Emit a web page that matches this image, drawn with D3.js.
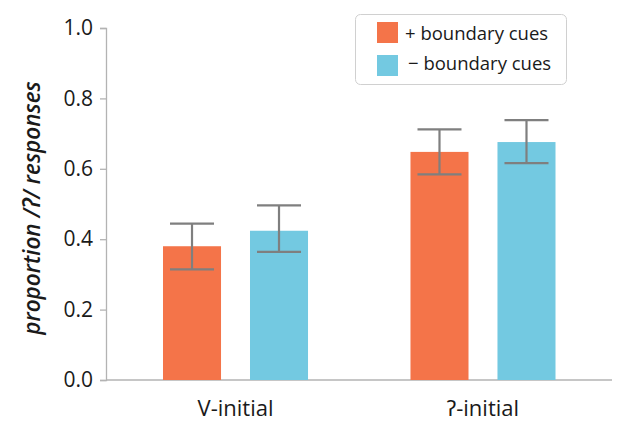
<!DOCTYPE html>
<html>
<head>
<meta charset="utf-8">
<script src="https://cdn.jsdelivr.net/npm/d3@7"></script>
<style>
  html, body { margin: 0; padding: 0; background: #fff; }
  svg { display: block; font-family: "Open Sans", "Noto Sans", sans-serif; }
</style>
</head>
<body>
<svg id="chart" width="619" height="422"></svg>
<script>
// Word-onset categories and boundary-cue conditions
const categories = ["V-initial", "ʔ-initial"];
const conditions = ["+ boundary cues", "\u2212 boundary cues"];
const conditionKeys = ["plus", "minus"];

// Mean proportion of /ʔ/ responses per category (plus, minus)
const plusValues = [0.38, 0.648];
const minusValues = [0.424, 0.676];

// Error bar extents (lower, upper)
const plusLow = [0.314, 0.584];
const plusHigh = [0.444, 0.712];
const minusLow = [0.364, 0.616];
const minusHigh = [0.496, 0.738];

const yTicks = [0, 0.2, 0.4, 0.6, 0.8, 1.0];
const colors = { plus: "#f47449", minus: "#73c9e1" };

const svg = d3.select("#chart");
const margin = { left: 106, top: 28, bottom: 42 };
const H = 422;

const y = d3.scaleLinear().domain([0, 1]).range([H - margin.bottom, margin.top]);

const x = d3.scaleBand().domain(categories)
  .range([113.5, 605]).paddingInner(0.414).paddingOuter(0.2);
const xInner = d3.scaleBand().domain(conditionKeys)
  .range([0, x.bandwidth()]).paddingInner(0.333).paddingOuter(0);

const rows = categories.map((c, i) => ({
  category: c,
  bars: [
    { key: "plus", value: plusValues[i], lo: plusLow[i], hi: plusHigh[i] },
    { key: "minus", value: minusValues[i], lo: minusLow[i], hi: minusHigh[i] }
  ]
}));

// Y axis
const yAxis = svg.append("g")
  .attr("transform", `translate(${margin.left},0)`)
  .call(d3.axisLeft(y).tickValues(yTicks).tickFormat(d3.format(".1f")).tickSize(6).tickPadding(7));
yAxis.select(".domain").attr("stroke", "#b3b3b3").attr("stroke-width", 1.3);
yAxis.selectAll(".tick line").attr("stroke", "#b3b3b3").attr("stroke-width", 1.3);
yAxis.selectAll(".tick text")
  .attr("fill", "#1a1a1a").style("font-size", "21px")
  .style("font-family", "'Open Sans', sans-serif");

// X baseline
svg.append("line")
  .attr("x1", margin.left).attr("x2", 612)
  .attr("y1", y(0)).attr("y2", y(0))
  .attr("stroke", "#b3b3b3").attr("stroke-width", 1.3);

// Bars
const groups = svg.append("g").selectAll("g").data(rows).join("g")
  .attr("transform", d => `translate(${x(d.category)},0)`);

groups.selectAll("rect").data(d => d.bars).join("rect")
  .attr("x", d => xInner(d.key))
  .attr("width", xInner.bandwidth())
  .attr("y", d => y(d.value))
  .attr("height", d => y(0) - y(d.value))
  .attr("fill", d => colors[d.key]);

// Error bars
const capHalf = 22;
const eb = groups.selectAll("g.err").data(d => d.bars).join("g")
  .attr("class", "err")
  .attr("stroke", "#7f7f7f").attr("stroke-width", 2.2);
eb.append("line")
  .attr("x1", d => xInner(d.key) + xInner.bandwidth() / 2)
  .attr("x2", d => xInner(d.key) + xInner.bandwidth() / 2)
  .attr("y1", d => y(d.lo)).attr("y2", d => y(d.hi));
eb.append("line")
  .attr("x1", d => xInner(d.key) + xInner.bandwidth() / 2 - capHalf)
  .attr("x2", d => xInner(d.key) + xInner.bandwidth() / 2 + capHalf)
  .attr("y1", d => y(d.hi)).attr("y2", d => y(d.hi));
eb.append("line")
  .attr("x1", d => xInner(d.key) + xInner.bandwidth() / 2 - capHalf)
  .attr("x2", d => xInner(d.key) + xInner.bandwidth() / 2 + capHalf)
  .attr("y1", d => y(d.lo)).attr("y2", d => y(d.lo));

// Category labels
svg.append("g").selectAll("text").data(categories).join("text")
  .attr("x", d => x(d) + x.bandwidth() / 2)
  .attr("y", 416)
  .attr("text-anchor", "middle")
  .attr("fill", "#1a1a1a")
  .style("font-size", "22px")
  .text(d => d);

// Y axis title
svg.append("text")
  .attr("transform", `translate(40,${(y(0) + y(1)) / 2 + 4}) rotate(-90)`)
  .attr("text-anchor", "middle")
  .attr("fill", "#1a1a1a")
  .style("font-size", "22.5px")
  .style("font-style", "italic")
  .style("font-weight", "600")
  .text("proportion /ʔ/ responses");

// Legend
const legend = svg.append("g");
legend.append("rect")
  .attr("x", 355.5).attr("y", 14.5).attr("width", 211).attr("height", 70)
  .attr("rx", 5).attr("fill", "#fff").attr("stroke", "#d0d0d0").attr("stroke-width", 1);
const items = legend.selectAll("g").data(conditionKeys).join("g")
  .attr("transform", (d, i) => `translate(377,${22 + i * 33})`);
items.append("rect").attr("width", 21).attr("height", i => 21).attr("fill", d => colors[d]);
items.append("text")
  .attr("x", (d, i) => i === 0 ? 28 : 31)
  .attr("y", (d, i) => i === 0 ? 18 : 15)
  .attr("fill", "#1a1a1a")
  .style("font-size", "18.5px")
  .text((d, i) => conditions[i]);
</script>
</body>
</html>
